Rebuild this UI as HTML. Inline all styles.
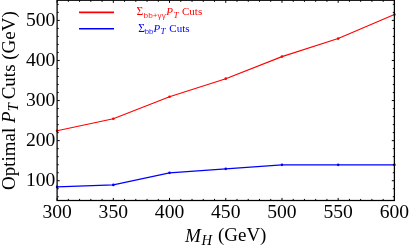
<!DOCTYPE html><html><head><meta charset="utf-8"><style>html,body{margin:0;padding:0;background:#fff;}svg{display:block;will-change:transform;}text{font-family:"Liberation Serif",serif;}</style></head><body>
<svg width="409" height="246" viewBox="0 0 409 246">
<rect width="409" height="246" fill="#fff"/>
<polyline points="57.10,130.77 113.32,118.75 169.53,96.70 225.75,78.67 281.97,56.62 338.18,38.59 394.40,14.54" fill="none" stroke="#ff0000" stroke-width="1.1" stroke-linejoin="round"/>
<polyline points="57.10,186.88 113.32,184.88 169.53,172.85 225.75,168.85 281.97,164.84 338.18,164.84 394.40,164.84" fill="none" stroke="#0000ff" stroke-width="1.1" stroke-linejoin="round"/>
<circle cx="57.10" cy="130.77" r="1.3" fill="#ff0000"/>
<circle cx="113.32" cy="118.75" r="1.3" fill="#ff0000"/>
<circle cx="169.53" cy="96.70" r="1.3" fill="#ff0000"/>
<circle cx="225.75" cy="78.67" r="1.3" fill="#ff0000"/>
<circle cx="281.97" cy="56.62" r="1.3" fill="#ff0000"/>
<circle cx="338.18" cy="38.59" r="1.3" fill="#ff0000"/>
<circle cx="394.40" cy="14.54" r="1.3" fill="#ff0000"/>
<circle cx="57.10" cy="186.88" r="1.3" fill="#0000ff"/>
<circle cx="113.32" cy="184.88" r="1.3" fill="#0000ff"/>
<circle cx="169.53" cy="172.85" r="1.3" fill="#0000ff"/>
<circle cx="225.75" cy="168.85" r="1.3" fill="#0000ff"/>
<circle cx="281.97" cy="164.84" r="1.3" fill="#0000ff"/>
<circle cx="338.18" cy="164.84" r="1.3" fill="#0000ff"/>
<circle cx="394.40" cy="164.84" r="1.3" fill="#0000ff"/>
<path d="M57.10 200.5v-2.6M57.10 0.25v2.6M68.34 200.5v-1.6M68.34 0.25v1.6M79.59 200.5v-1.6M79.59 0.25v1.6M90.83 200.5v-1.6M90.83 0.25v1.6M102.07 200.5v-1.6M102.07 0.25v1.6M113.32 200.5v-2.6M113.32 0.25v2.6M124.56 200.5v-1.6M124.56 0.25v1.6M135.80 200.5v-1.6M135.80 0.25v1.6M147.05 200.5v-1.6M147.05 0.25v1.6M158.29 200.5v-1.6M158.29 0.25v1.6M169.53 200.5v-2.6M169.53 0.25v2.6M180.78 200.5v-1.6M180.78 0.25v1.6M192.02 200.5v-1.6M192.02 0.25v1.6M203.26 200.5v-1.6M203.26 0.25v1.6M214.51 200.5v-1.6M214.51 0.25v1.6M225.75 200.5v-2.6M225.75 0.25v2.6M236.99 200.5v-1.6M236.99 0.25v1.6M248.24 200.5v-1.6M248.24 0.25v1.6M259.48 200.5v-1.6M259.48 0.25v1.6M270.72 200.5v-1.6M270.72 0.25v1.6M281.97 200.5v-2.6M281.97 0.25v2.6M293.21 200.5v-1.6M293.21 0.25v1.6M304.45 200.5v-1.6M304.45 0.25v1.6M315.70 200.5v-1.6M315.70 0.25v1.6M326.94 200.5v-1.6M326.94 0.25v1.6M338.18 200.5v-2.6M338.18 0.25v2.6M349.43 200.5v-1.6M349.43 0.25v1.6M360.67 200.5v-1.6M360.67 0.25v1.6M371.91 200.5v-1.6M371.91 0.25v1.6M383.16 200.5v-1.6M383.16 0.25v1.6M394.40 200.5v-2.6M394.40 0.25v2.6M57.1 196.75h1.6M394.4 196.75h-1.6M57.1 188.74h1.6M394.4 188.74h-1.6M57.1 180.72h2.6M394.4 180.72h-2.6M57.1 172.70h1.6M394.4 172.70h-1.6M57.1 164.69h1.6M394.4 164.69h-1.6M57.1 156.67h1.6M394.4 156.67h-1.6M57.1 148.66h1.6M394.4 148.66h-1.6M57.1 140.64h2.6M394.4 140.64h-2.6M57.1 132.62h1.6M394.4 132.62h-1.6M57.1 124.61h1.6M394.4 124.61h-1.6M57.1 116.59h1.6M394.4 116.59h-1.6M57.1 108.58h1.6M394.4 108.58h-1.6M57.1 100.56h2.6M394.4 100.56h-2.6M57.1 92.54h1.6M394.4 92.54h-1.6M57.1 84.53h1.6M394.4 84.53h-1.6M57.1 76.51h1.6M394.4 76.51h-1.6M57.1 68.50h1.6M394.4 68.50h-1.6M57.1 60.48h2.6M394.4 60.48h-2.6M57.1 52.46h1.6M394.4 52.46h-1.6M57.1 44.45h1.6M394.4 44.45h-1.6M57.1 36.43h1.6M394.4 36.43h-1.6M57.1 28.42h1.6M394.4 28.42h-1.6M57.1 20.40h2.6M394.4 20.40h-2.6M57.1 12.38h1.6M394.4 12.38h-1.6M57.1 4.37h1.6M394.4 4.37h-1.6" stroke="#000" stroke-width="1" fill="none"/>
<rect x="57.1" y="0.25" width="337.29999999999995" height="200.25" fill="none" stroke="#000" stroke-width="1.25"/>
<text x="57.10" y="217.7" font-size="19.2" text-anchor="middle" textLength="29.4" lengthAdjust="spacingAndGlyphs">300</text>
<text x="113.32" y="217.7" font-size="19.2" text-anchor="middle" textLength="29.4" lengthAdjust="spacingAndGlyphs">350</text>
<text x="169.53" y="217.7" font-size="19.2" text-anchor="middle" textLength="29.4" lengthAdjust="spacingAndGlyphs">400</text>
<text x="225.75" y="217.7" font-size="19.2" text-anchor="middle" textLength="29.4" lengthAdjust="spacingAndGlyphs">450</text>
<text x="281.97" y="217.7" font-size="19.2" text-anchor="middle" textLength="29.4" lengthAdjust="spacingAndGlyphs">500</text>
<text x="338.18" y="217.7" font-size="19.2" text-anchor="middle" textLength="29.4" lengthAdjust="spacingAndGlyphs">550</text>
<text x="394.40" y="217.7" font-size="19.2" text-anchor="middle" textLength="29.4" lengthAdjust="spacingAndGlyphs">600</text>
<text x="55.4" y="186.02" font-size="19.2" text-anchor="end" textLength="29.4" lengthAdjust="spacingAndGlyphs">100</text>
<text x="55.4" y="145.94" font-size="19.2" text-anchor="end" textLength="29.4" lengthAdjust="spacingAndGlyphs">200</text>
<text x="55.4" y="105.86" font-size="19.2" text-anchor="end" textLength="29.4" lengthAdjust="spacingAndGlyphs">300</text>
<text x="55.4" y="65.78" font-size="19.2" text-anchor="end" textLength="29.4" lengthAdjust="spacingAndGlyphs">400</text>
<text x="55.4" y="25.70" font-size="19.2" text-anchor="end" textLength="29.4" lengthAdjust="spacingAndGlyphs">500</text>
<text x="185" y="241.5" font-size="19"><tspan font-style="italic">M</tspan><tspan font-style="italic" font-size="14.5" dy="3.6" dx="0.6">H</tspan></text><text x="218.0" y="241.4" font-size="19" textLength="48.4" lengthAdjust="spacingAndGlyphs">(GeV)</text>
<text transform="translate(14.9,190) rotate(-90)" font-size="19">Optimal <tspan font-style="italic">P</tspan><tspan font-style="italic" font-size="14.5" dy="3.5">T</tspan></text><text transform="translate(14.9,99.3) rotate(-90)" font-size="19"><tspan>Cuts (GeV)</tspan></text>
<line x1="79" y1="12.4" x2="114" y2="12.4" stroke="#ff0000" stroke-width="1.6"/>
<line x1="79" y1="28.8" x2="114" y2="28.8" stroke="#0000ff" stroke-width="1.6"/>
<g fill="#ff0000"><text x="136.6" y="15.4" font-size="11.6">Σ</text><text x="143.6" y="17.6" font-size="7.8" fill-opacity="0.88" style="font-family:'Liberation Sans',sans-serif" textLength="22.2" lengthAdjust="spacingAndGlyphs">bb+γγ</text><text x="166.3" y="15.4" font-size="11" font-style="italic">P</text><text x="173.6" y="17.6" font-size="9" font-style="italic">T</text><text x="182" y="15.4" font-size="11">Cuts</text></g>
<g fill="#0000ff"><text x="138.2" y="32.2" font-size="11.6">Σ</text><text x="144.8" y="34.400000000000006" font-size="7.8" fill-opacity="0.88" style="font-family:'Liberation Sans',sans-serif" textLength="8.6" lengthAdjust="spacingAndGlyphs">bb</text><text x="153.5" y="32.2" font-size="11" font-style="italic">P</text><text x="160.5" y="34.400000000000006" font-size="9" font-style="italic">T</text><text x="169.3" y="32.2" font-size="11">Cuts</text></g>
</svg></body></html>
